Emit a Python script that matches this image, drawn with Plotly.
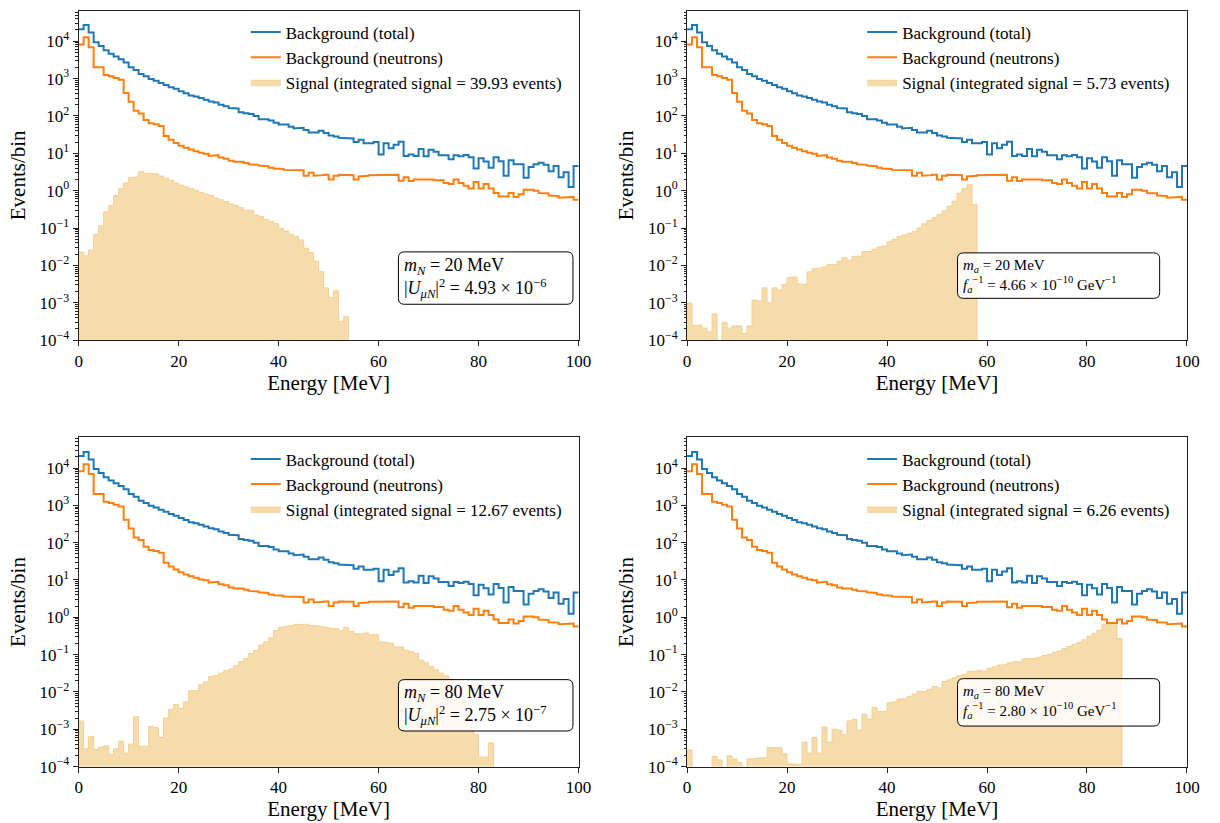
import plotly.graph_objects as go

# 1 MeV energy bins from 0 to 100 MeV
energy_edges = list(range(0, 101))

# Background spectra (identical in every panel), events per bin
bg_total = [
    21000, 27000, 17000, 9400, 7400, 5700, 4600, 3900, 3300, 2700,
    2000, 1700, 1320, 1150, 980, 880, 760, 670, 585, 530,
    460, 405, 355, 333, 300, 270, 245, 228, 200, 181,
    163, 158, 125, 118, 112, 100, 82, 82, 76, 66,
    59, 59, 51, 46, 48, 42, 36, 36, 40, 35,
    30, 28, 26, 25, 25, 20, 23, 18.7, 18.7, 20,
    9.3, 18.7, 13.7, 17, 20.5, 8.5, 9.3, 8.5, 13, 8.3,
    12.5, 11, 8.8, 8.8, 6.9, 8.8, 8.3, 9, 7.8, 3.9,
    7.4, 6, 4.1, 7.8, 6.1, 2.5, 6.5, 5.1, 5.1, 2.2,
    4.3, 5.1, 5.6, 4.9, 3.3, 4.6, 2.3, 3.1, 1.25, 4.6,
]
bg_neutrons = [
    8200, 12700, 6900, 2000, 2000, 1250, 1150, 1040, 930, 410,
    240, 138, 117, 78, 64, 60, 54, 29, 23, 19,
    16, 14, 12.6, 11.4, 10.3, 9.8, 8.5, 8.9, 7.7, 7.2,
    6.3, 5.9, 5.9, 5.5, 5.1, 4.9, 4.7, 4.5, 4.1, 3.9,
    3.8, 3.6, 3.55, 3.5, 3.5, 2.5, 3.0, 2.5, 2.6, 2.65,
    2.0, 2.5, 2.65, 2.6, 2.6, 2.0, 2.4, 2.5, 2.6, 2.6,
    2.65, 2.65, 2.7, 2.65, 1.85, 2.3, 1.8, 2.0, 2.0, 2.04,
    2.0, 1.9, 1.9, 1.6, 1.5, 2.0, 1.6, 1.35, 1.15, 1.7,
    1.15, 1.5, 1.15, 0.87, 0.70, 0.70, 0.87, 0.68, 0.80, 1.05,
    1.05, 1.0, 0.87, 0.85, 0.74, 0.72, 0.65, 0.68, 0.68, 0.57,
]

# Signal spectra, events per bin
sig_hnl_20 = [
    0.0227, 0.018, 0.026, 0.068, 0.115, 0.27, 0.40, 0.74, 1.12, 1.6,
    2.25, 2.3, 3.2, 2.9, 2.9, 2.8, 2.45, 2.15, 1.9, 1.6,
    1.4, 1.27, 1.13, 1.02, 0.90, 0.82, 0.74, 0.64, 0.57, 0.51,
    0.44, 0.40, 0.35, 0.30, 0.30, 0.22, 0.205, 0.17, 0.15, 0.13,
    0.098, 0.083, 0.068, 0.059, 0.048, 0.029, 0.022, 0.013, 0.0068, 0.0025,
    0.0014, 0.0021, 0.00032, 0.00042, 0, 0, 0, 0, 0, 0,
] + [0] * 40
sig_alp_20 = [
    9.8e-4, 2.5e-4, 2.5e-4, 2.1e-4, 1.66e-4, 5.0e-4, 0, 3.0e-4, 2.1e-4, 2.4e-4,
    2.4e-4, 1.5e-4, 2.4e-4, 1.18e-3, 1.12e-3, 2.5e-3, 1.0e-3, 2.5e-3, 2.2e-3, 3.1e-3,
    4.7e-3, 4.9e-3, 3.2e-3, 3.1e-3, 6.7e-3, 8.1e-3, 8.5e-3, 9.1e-3, 0.0105, 0.0105,
    0.013, 0.016, 0.0137, 0.0175, 0.0175, 0.0235, 0.0235, 0.027, 0.031, 0.033,
    0.043, 0.050, 0.059, 0.065, 0.072, 0.080, 0.10, 0.13, 0.16, 0.19,
    0.23, 0.29, 0.38, 0.52, 0.85, 1.15, 1.45, 0.43, 0, 0,
] + [0] * 40
sig_hnl_80 = [
    1.66e-3, 3.0e-4, 6.4e-4, 2.9e-4, 3.3e-4, 3.6e-4, 2.1e-4, 3.0e-4, 4.8e-4, 2.3e-4,
    4.0e-4, 2.2e-3, 3.5e-4, 3.5e-4, 1.2e-3, 1.1e-3, 6.0e-4, 2.0e-3, 3.4e-3, 4.6e-3,
    3.6e-3, 5.4e-3, 0.0108, 0.0108, 0.0156, 0.0183, 0.026, 0.0275, 0.032, 0.037,
    0.041, 0.050, 0.065, 0.079, 0.107, 0.13, 0.18, 0.22, 0.28, 0.44,
    0.54, 0.57, 0.60, 0.64, 0.67, 0.65, 0.60, 0.60, 0.57, 0.54,
    0.51, 0.49, 0.44, 0.54, 0.42, 0.36, 0.36, 0.38, 0.34, 0.34,
    0.22, 0.21, 0.20, 0.16, 0.16, 0.13, 0.119, 0.107, 0.071, 0.062,
    0.048, 0.039, 0.032, 0.027, 0.022, 0.016, 0.010, 0.0055, 0.002, 7.4e-4,
    1.8e-4, 1.8e-4, 4.3e-4, 0, 0, 0, 0, 0, 0, 0,
] + [0] * 10
sig_alp_80 = [
    2.8e-4, 0, 0, 0, 0, 1.86e-4, 1.5e-4, 0, 1.95e-4, 1.6e-4,
    1.3e-4, 0, 1.6e-4, 1.65e-4, 1.7e-4, 1.75e-4, 3.2e-4, 3.1e-4, 3.2e-4, 2.2e-4,
    1.2e-4, 1.15e-4, 1.15e-4, 4.5e-4, 2.3e-4, 6.0e-4, 2.3e-4, 1.15e-3, 4.5e-4, 1.0e-3,
    9.5e-4, 7.1e-4, 1.67e-3, 1.85e-3, 9.5e-4, 2.5e-3, 1.85e-3, 3.8e-3, 3.0e-3, 3.0e-3,
    5.1e-3, 5.4e-3, 6.5e-3, 6.5e-3, 7.6e-3, 8.7e-3, 0.0104, 0.0102, 0.0115, 0.014,
    0.0128, 0.019, 0.021, 0.024, 0.027, 0.030, 0.035, 0.036, 0.038, 0.036,
    0.043, 0.047, 0.052, 0.054, 0.060, 0.064, 0.064, 0.076, 0.079, 0.079,
    0.085, 0.095, 0.10, 0.115, 0.125, 0.145, 0.165, 0.19, 0.21, 0.25,
    0.31, 0.37, 0.45, 0.65, 0.65, 0.74, 0.27, 0, 0, 0,
] + [0] * 10

integrated_signal = ["39.93", "5.73", "12.67", "6.26"]

param_labels = [
    "<i>m<sub>N</sub></i> = 20 MeV<br>|<i>U<sub>μN</sub></i>|<sup>2</sup> = 4.93 × 10<sup>−6</sup>",
    "<i>m<sub>a</sub></i> = 20 MeV<br><i>f<sub>a</sub></i><sup>−1</sup> = 4.66 × 10<sup>−10</sup> GeV<sup>−1</sup>",
    "<i>m<sub>N</sub></i> = 80 MeV<br>|<i>U<sub>μN</sub></i>|<sup>2</sup> = 2.75 × 10<sup>−7</sup>",
    "<i>m<sub>a</sub></i> = 80 MeV<br><i>f<sub>a</sub></i><sup>−1</sup> = 2.80 × 10<sup>−10</sup> GeV<sup>−1</sup>",
]

x_ticks = [0, 20, 40, 60, 80, 100]
y_ticks = [1e-4, 1e-3, 1e-2, 1e-1, 1e0, 1e1, 1e2, 1e3, 1e4]
y_ticktext = ["10<sup>−4</sup>", "10<sup>−3</sup>", "10<sup>−2</sup>", "10<sup>−1</sup>",
              "10<sup>0</sup>", "10<sup>1</sup>", "10<sup>2</sup>", "10<sup>3</sup>", "10<sup>4</sup>"]
y_minor = [m * 10.0 ** e for e in range(-4, 5) for m in range(2, 10)]

W, H = 1220, 823
FONT = "Liberation Serif"
BLUE, ORANGE = "#1f77b4", "#ff7f0e"
SIG_FILL, SIG_EDGE = "rgb(246,220,171)", "rgb(243,207,148)"
FLOOR = 1e-7  # below the visible range, used to close filled steps


def step_xy(values, closed=False):
    xs, ys = [], []
    if closed:
        xs.append(energy_edges[0]); ys.append(FLOOR)
    for i, v in enumerate(values):
        v = v if v > 0 else FLOOR
        xs += [energy_edges[i], energy_edges[i + 1]]
        ys += [v, v]
    if closed:
        xs.append(energy_edges[-1]); ys.append(FLOOR)
    return xs, ys


def px(x):
    return x / W


def py(y):
    return 1 - y / H


def rounded_box(x0, y0, x1, y1, r=6):
    return (f"M {px(x0 + r)},{py(y0)} L {px(x1 - r)},{py(y0)} "
            f"Q {px(x1)},{py(y0)} {px(x1)},{py(y0 + r)} L {px(x1)},{py(y1 - r)} "
            f"Q {px(x1)},{py(y1)} {px(x1 - r)},{py(y1)} L {px(x0 + r)},{py(y1)} "
            f"Q {px(x0)},{py(y1)} {px(x0)},{py(y1 - r)} L {px(x0)},{py(y0 + r)} "
            f"Q {px(x0)},{py(y0)} {px(x0 + r)},{py(y0)} Z")


signals = [sig_hnl_20, sig_alp_20, sig_hnl_80, sig_alp_80]

# axes rectangles in pixels: (left, top, right, bottom)
axes_px = [(75.7, 10.7, 582.7, 344.3), (692.7, 10.7, 1199.7, 344.3),
           (75.7, 442.8, 582.7, 776.0), (692.7, 442.8, 1199.7, 776.0)]
box_px = [(400, 255, 577, 308, 18), (967, 256, 1172, 302, 15),
          (400, 688, 577, 740, 18), (967, 687, 1172, 735, 15)]

fig = go.Figure()
layout = dict(width=W, height=H, margin=dict(l=0, r=0, t=0, b=0),
              paper_bgcolor="white", plot_bgcolor="white",
              font=dict(family=FONT, color="black"), shapes=[], annotations=[])

for k in range(4):
    n = k + 1
    xa, ya = f"x{n}", f"y{n}"
    leg = "legend" if n == 1 else f"legend{n}"
    sx, sy = step_xy(signals[k], closed=True)
    tx, ty = step_xy(bg_total)
    nx, ny = step_xy(bg_neutrons)
    fig.add_trace(go.Scatter(x=sx, y=sy, mode="lines", fill="toself", fillcolor=SIG_FILL,
                             line=dict(color=SIG_EDGE, width=1),
                             name=f"Signal (integrated signal = {integrated_signal[k]} events)",
                             legend=leg, legendrank=3, xaxis=xa, yaxis=ya))
    fig.add_trace(go.Scatter(x=tx, y=ty, mode="lines", line=dict(color=BLUE, width=2),
                             name="Background (total)", legend=leg,
                             legendrank=1, xaxis=xa, yaxis=ya))
    fig.add_trace(go.Scatter(x=nx, y=ny, mode="lines", line=dict(color=ORANGE, width=2),
                             name="Background (neutrons)", legend=leg,
                             legendrank=2, xaxis=xa, yaxis=ya))

    l, t, r, b = axes_px[k]
    layout[f"xaxis{n}"] = dict(
        domain=[px(l), px(r)], anchor=ya, range=[0, 100], tickvals=x_ticks,
        ticks="outside", ticklen=5, tickwidth=1, tickcolor="#222",
        showline=True, mirror=True, linecolor="#222", linewidth=1,
        showgrid=False, zeroline=False, tickfont=dict(size=17, family=FONT),
        title=dict(text="Energy [MeV]", font=dict(size=21, family=FONT), standoff=4))
    layout[f"yaxis{n}"] = dict(
        domain=[py(b), py(t)], anchor=xa, type="log", range=[-4, 4.82],
        tickmode="array", tickvals=y_ticks, ticktext=y_ticktext,
        ticks="outside", ticklen=5, tickwidth=1, tickcolor="#222",
        minor=dict(tickmode="array", tickvals=y_minor, ticks="outside", ticklen=2.5,
                   tickwidth=0.8, tickcolor="#222", showgrid=False),
        showline=True, mirror=True, linecolor="#222", linewidth=1,
        showgrid=False, zeroline=False, tickfont=dict(size=17, family=FONT),
        title=dict(text="Events/bin", font=dict(size=21, family=FONT), standoff=8))
    layout[leg] = dict(x=px(r - 12), y=py(t + 4), xanchor="right", yanchor="top",
                       bgcolor="rgba(0,0,0,0)", borderwidth=0, traceorder="normal",
                       tracegroupgap=0, font=dict(size=17, family=FONT))

    bx0, by0, bx1, by1, fs = box_px[k]
    layout["shapes"].append(dict(type="path", path=rounded_box(bx0, by0, bx1, by1),
                                 xref="paper", yref="paper", layer="above",
                                 fillcolor="rgba(255,255,255,0.85)",
                                 line=dict(color="black", width=1)))
    layout["annotations"].append(dict(text=param_labels[k], xref="paper", yref="paper",
                                      x=px(bx0 + 4), y=py((by0 + by1) / 2),
                                      xanchor="left", yanchor="middle", align="left",
                                      showarrow=False, font=dict(size=fs, family=FONT)))

fig.update_layout(**layout)
fig.write_html("out.html")
